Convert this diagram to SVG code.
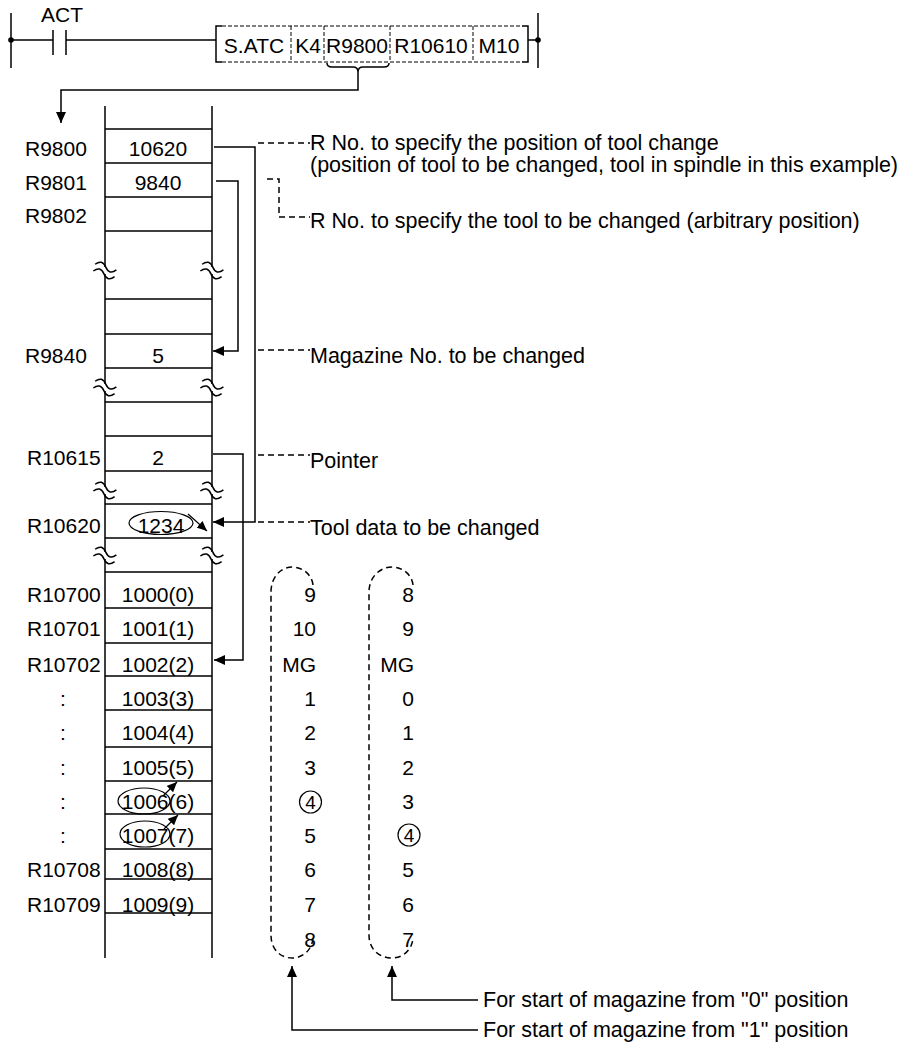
<svg xmlns="http://www.w3.org/2000/svg" width="909" height="1047" viewBox="0 0 909 1047">
<style>
text{font-family:"Liberation Sans",Arial,sans-serif;fill:#000}
.t{font-size:21px}
.lb{font-size:21.5px}
.lad{font-size:21px}
.c{text-anchor:middle}
.r{text-anchor:end}
.ln{stroke:#000;stroke-width:1.5;fill:none}
.thin{stroke:#000;stroke-width:1.2;fill:none}
.dsh{stroke:#000;stroke-width:1.5;fill:none;stroke-dasharray:6 4}
.bdsh{stroke:#000;stroke-width:1;fill:none;stroke-dasharray:4 2}
.cap{stroke:#000;stroke-width:1.5;fill:none;stroke-dasharray:6 4}
</style>
<defs>
<marker id="ah" markerUnits="userSpaceOnUse" markerWidth="12" markerHeight="10" refX="11" refY="5" orient="auto">
<path d="M0,0 L11,5 L0,10 z" fill="#000"/>
</marker>
<marker id="ahs" markerUnits="userSpaceOnUse" markerWidth="11" markerHeight="9" refX="10" refY="4.5" orient="auto">
<path d="M0,0 L10,4.5 L0,9 z" fill="#000"/>
</marker>
<g id="brk">
<rect x="-3" y="-3" width="6" height="7" fill="#fff"/>
<path d="M-11,-3 q5.5,-7 11,0 t11,0 M-11,4 q5.5,-7 11,0 t11,0" stroke="#000" stroke-width="1.5" fill="none" transform="rotate(15)"/>
</g>
</defs>
<rect width="909" height="1047" fill="#fff"/>

<g id="ladder">
<line class="ln" x1="11" y1="13" x2="11" y2="68"/>
<line class="ln" x1="538" y1="13" x2="538" y2="68"/>
<circle cx="11" cy="40" r="2.8" fill="#000"/>
<circle cx="538" cy="40" r="2.8" fill="#000"/>
<path class="ln" d="M11,40 H53 M66,40 H216 M528,40 H538"/>
<path class="ln" d="M53,30 V55 M66,30 V55"/>
<text class="lad c" x="62" y="22">ACT</text>
</g>

<g id="satc">
<path class="ln" d="M222,26 H216 V62 H222 M522,26 H528 V62 H522"/>
<path class="bdsh" d="M222,26 H522 M222,62 H522 M291,26 V62 M324,26 V62 M390,26 V62 M473,26 V62"/>
<text class="lad c" x="254" y="53">S.ATC</text>
<text class="lad c" x="308" y="53">K4</text>
<text class="lad c" x="357" y="53">R9800</text>
<text class="lad c" x="431" y="53">R10610</text>
<text class="lad c" x="499" y="53">M10</text>
<path class="ln" d="M327,63 Q327,67 332,67 H353 Q358,67 358,72 Q358,67 363,67 H384 Q389,67 389,63"/>
</g>

<g id="table">
<path class="ln" d="M105,106 V958 M212,106 V958"/>
<path class="ln" d="M105,129 H212 M105,163 H212 M105,197 H212 M105,231 H212 M105,299 H212 M105,334 H212 M105,368 H212 M105,402 H212 M105,436 H212 M105,471 H212 M105,504 H212 M105,538 H212 M105,572 H212 M105,608 H212 M105,643 H212 M105,676 H212 M105,710 H212 M105,747 H212 M105,781 H212 M105,814 H212 M105,849 H212 M105,879 H212 M105,913 H212"/>
<use href="#brk" x="105" y="270"/><use href="#brk" x="212" y="270"/>
<use href="#brk" x="105" y="387"/><use href="#brk" x="212" y="387"/>
<use href="#brk" x="105" y="490"/><use href="#brk" x="212" y="490"/>
<use href="#brk" x="105" y="555"/><use href="#brk" x="212" y="555"/>
<text class="t" x="25" y="156">R9800</text>
<text class="t" x="25" y="190">R9801</text>
<text class="t" x="25" y="223">R9802</text>
<text class="t" x="25" y="363">R9840</text>
<text class="t" x="27" y="465">R10615</text>
<text class="t" x="27" y="533">R10620</text>
<text class="t" x="27" y="602">R10700</text>
<text class="t" x="27" y="636">R10701</text>
<text class="t" x="27" y="672">R10702</text>
<text class="t c" x="63" y="706">:</text>
<text class="t c" x="63" y="740">:</text>
<text class="t c" x="63" y="775">:</text>
<text class="t c" x="63" y="809">:</text>
<text class="t c" x="63" y="843">:</text>
<text class="t" x="27" y="877">R10708</text>
<text class="t" x="27" y="912">R10709</text>
<text class="t c" x="158" y="156">10620</text>
<text class="t c" x="158" y="190">9840</text>
<text class="t c" x="158" y="363">5</text>
<text class="t c" x="158" y="465">2</text>
<text class="t c" x="161" y="533">1234</text>
<ellipse class="thin" cx="161" cy="523" rx="32" ry="11.5"/>
<text class="t c" x="158" y="602">1000(0)</text>
<text class="t c" x="158" y="636">1001(1)</text>
<text class="t c" x="158" y="672">1002(2)</text>
<text class="t c" x="158" y="706">1003(3)</text>
<text class="t c" x="158" y="740">1004(4)</text>
<text class="t c" x="158" y="775">1005(5)</text>
<text class="t c" x="158" y="809">1006(6)</text>
<ellipse class="thin" cx="144" cy="801" rx="26" ry="13"/>
<text class="t c" x="158" y="843">1007(7)</text>
<ellipse class="thin" cx="145" cy="834" rx="25" ry="13"/>
<text class="t c" x="158" y="877">1008(8)</text>
<text class="t c" x="158" y="912">1009(9)</text>
</g>

<g id="col1">
<path class="cap" d="M313,585 C312,575 303,567 292,567 C281,567 271,577 271,592 L271,935 C271,950 281,958 292,958 C303,958 312,950 313,938"/>
<text class="t r" x="316" y="602">9</text>
<text class="t r" x="316" y="636">10</text>
<text class="t r" x="316" y="672">MG</text>
<text class="t r" x="316" y="706">1</text>
<text class="t r" x="316" y="740">2</text>
<text class="t r" x="316" y="775">3</text>
<circle class="thin" cx="310.5" cy="802" r="11"/>
<text class="c" style="font-size:19px" x="310.5" y="809">4</text>
<text class="t r" x="316" y="843">5</text>
<text class="t r" x="316" y="877">6</text>
<text class="t r" x="316" y="912">7</text>
<text class="t r" x="316" y="947">8</text>
</g>

<g id="col0">
<path class="cap" d="M413,585 C412,575 403,567 392,567 C380,567 369,577 369,592 L369,935 C369,950 380,958 392,958 C403,958 412,950 413,938"/>
<text class="t r" x="414" y="602">8</text>
<text class="t r" x="414" y="636">9</text>
<text class="t r" x="414" y="672">MG</text>
<text class="t r" x="414" y="706">0</text>
<text class="t r" x="414" y="740">1</text>
<text class="t r" x="414" y="775">2</text>
<text class="t r" x="414" y="809">3</text>
<circle class="thin" cx="409" cy="835" r="11"/>
<text class="c" style="font-size:19px" x="409" y="842">4</text>
<text class="t r" x="414" y="877">5</text>
<text class="t r" x="414" y="912">6</text>
<text class="t r" x="414" y="947">7</text>
</g>

<g id="labels">
<text class="lb" x="310" y="150">R No. to specify the position of tool change</text>
<text class="lb" x="310" y="172">(position of tool to be changed, tool in spindle in this example)</text>
<text class="lb" x="310" y="228">R No. to specify the tool to be changed (arbitrary position)</text>
<text class="lb" x="310" y="363">Magazine No. to be changed</text>
<text class="lb" x="310" y="468">Pointer</text>
<text class="lb" x="310" y="535">Tool data to be changed</text>
<text class="lb" x="483" y="1007">For start of magazine from "0" position</text>
<text class="lb" x="483" y="1037">For start of magazine from "1" position</text>
</g>

<g id="connectors">
<path class="ln" marker-end="url(#ah)" d="M358,72 V90 H61 V123"/>
<path class="ln" marker-end="url(#ah)" d="M214,147 H255 V522 H213"/>
<path class="ln" marker-end="url(#ah)" d="M216,181 H238 V351 H213"/>
<path class="ln" marker-end="url(#ah)" d="M213,454 H243 V660 H214"/>
<path class="thin" marker-end="url(#ahs)" d="M188,514 L207,531"/>
<path class="thin" marker-end="url(#ahs)" d="M163,796 L177,782"/>
<path class="thin" marker-end="url(#ahs)" d="M164,829 L178,815"/>
<path class="dsh" d="M258,143 H310"/>
<path class="dsh" d="M267,179 H279 V217 H310"/>
<path class="dsh" d="M258,350 H310"/>
<path class="dsh" d="M258,455 H310"/>
<path class="dsh" d="M258,522 H310"/>
<path class="ln" marker-end="url(#ah)" d="M478,1030 H292 V966"/>
<path class="ln" marker-end="url(#ah)" d="M478,1000 H392 V966"/>
</g>
</svg>
